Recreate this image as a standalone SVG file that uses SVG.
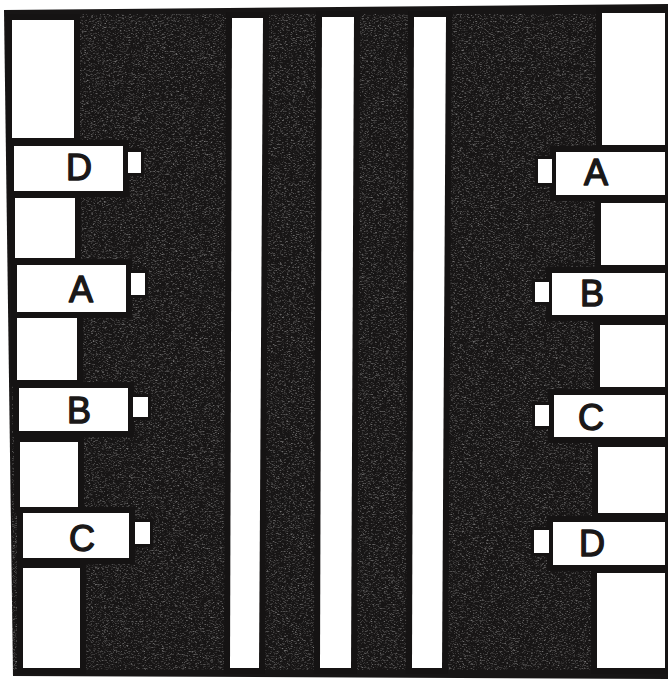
<svg xmlns="http://www.w3.org/2000/svg" width="668" height="679" viewBox="0 0 668 679">
<style>
.w{fill:#fff;stroke:#151313;stroke-width:12;stroke-linejoin:miter;paint-order:stroke}
.sq{fill:#fff;stroke:#151313;stroke-width:6;paint-order:stroke}
.t{font-family:"Liberation Sans",Arial,sans-serif;font-size:36px;fill:#1a1818;stroke:#1a1818;stroke-width:1.4;stroke-linejoin:round;text-anchor:middle}
</style>
<defs>
<filter id="chalk" x="0" y="0" width="100%" height="100%">
<feTurbulence type="fractalNoise" baseFrequency="0.45 1.3" numOctaves="3" seed="7" result="n"/>
<feColorMatrix in="n" type="matrix" values="0 0 0 0 0.85  0 0 0 0 0.85  0 0 0 0 0.85  2.6 0 0 0 -1.32"/>
</filter>
</defs>
<rect width="668" height="679" fill="#fff"/>
<polygon points="4,10 668,4 668,679 13,676" fill="#171515"/>
<rect x="12" y="14" width="652" height="656" fill="#000" filter="url(#chalk)" opacity="0.45"/>
<g id="left-wall">
<polygon class="w" points="12,20 74,20 74,138 12,138"/>
<polygon class="w" points="15,198 75,198 75,258 15,258"/>
<polygon class="w" points="17,318 77,318 77,380 17,380"/>
<polygon class="w" points="20,442 78,442 78,507 20,507"/>
<polygon class="w" points="23,568 80,568 80,668 23,668"/>
</g>
<g id="stripes">
<polygon class="w" points="232,18 263,18 259,668 230,668"/>
<polygon class="w" points="322,17 354,17 351,668 320,668"/>
<polygon class="w" points="414,17 446,17 442,668 412,668"/>
</g>
<g id="right-wall">
<polygon class="w" points="602,13 665,13 665,145 602,145"/>
<polygon class="w" points="601,203 665,203 665,265 601,265"/>
<polygon class="w" points="600,325 665,325 665,387 600,387"/>
<polygon class="w" points="598,447 665,447 665,513 598,513"/>
<polygon class="w" points="597,573 665,573 665,668 597,668"/>
</g>
<g id="left-D"><rect class="w" x="14" y="146" width="109" height="45"/><rect class="sq" x="128" y="152" width="13" height="21"/><text class="t" x="79" y="180">D</text></g>
<g id="left-A"><rect class="w" x="17" y="265" width="109" height="47"/><rect class="sq" x="131" y="273" width="14" height="22"/><text class="t" x="81" y="302">A</text></g>
<g id="left-B"><rect class="w" x="19" y="388" width="109" height="43"/><rect class="sq" x="133" y="397" width="15" height="20"/><text class="t" x="79" y="423">B</text></g>
<g id="left-C"><rect class="w" x="23" y="513" width="106" height="45"/><rect class="sq" x="135" y="522" width="15" height="22"/><text class="t" x="82" y="551">C</text></g>
<g id="right-A"><rect class="w" x="556" y="152" width="109" height="43"/><rect class="sq" x="538" y="159" width="14" height="24"/><text class="t" x="596" y="185">A</text></g>
<g id="right-B"><rect class="w" x="552" y="273" width="113" height="42"/><rect class="sq" x="535" y="282" width="14" height="20"/><text class="t" x="592" y="306">B</text></g>
<g id="right-C"><rect class="w" x="554" y="395" width="111" height="42"/><rect class="sq" x="535" y="405" width="14" height="21"/><text class="t" x="591" y="430">C</text></g>
<g id="right-D"><rect class="w" x="553" y="522" width="112" height="43"/><rect class="sq" x="534" y="530" width="15" height="23"/><text class="t" x="592" y="556">D</text></g>
</svg>
